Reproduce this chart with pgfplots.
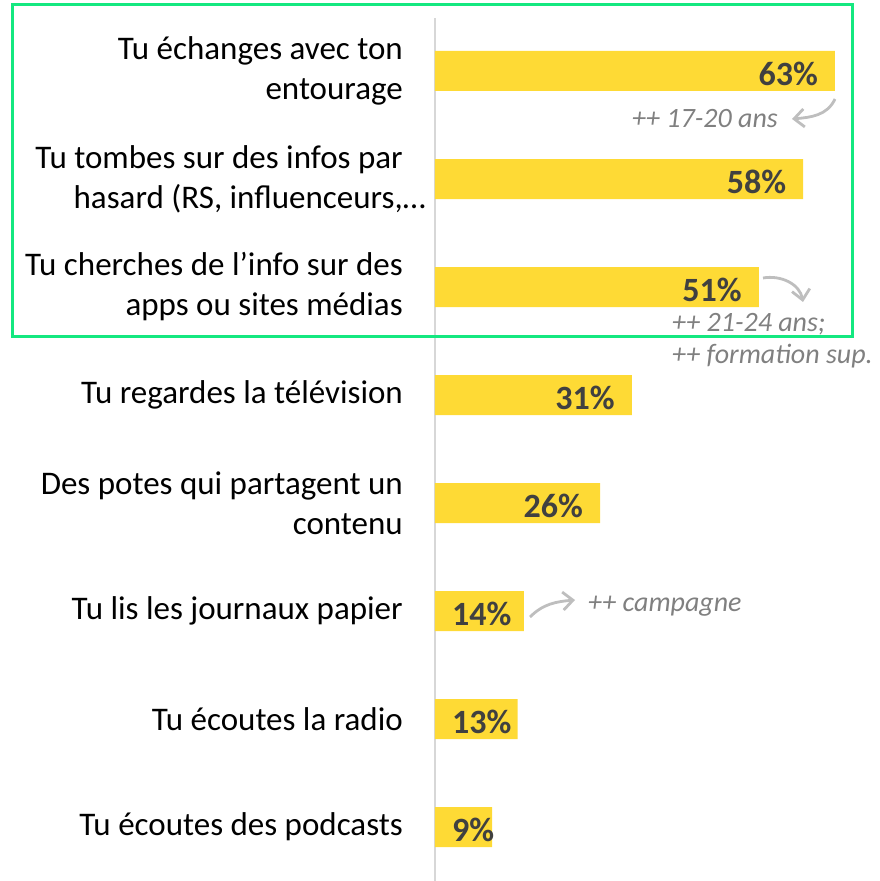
\documentclass[border=0pt]{standalone}
\usepackage{fontspec}
\setmainfont{Carlito}
\usepackage{pgfplots}
\pgfplotsset{compat=1.18}
\usepackage{pgfplotstable}
\usetikzlibrary{arrows.meta}
\definecolor{baryellow}{RGB}{254,218,53}
\definecolor{labgray}{RGB}{64,64,64}
\definecolor{anngray}{RGB}{128,128,128}
\definecolor{arrgray}{RGB}{190,190,190}
\definecolor{framegreen}{RGB}{20,232,128}
\definecolor{axisgray}{RGB}{215,215,215}

\pgfplotstableread{
idx val
0 63
1 58
2 51
3 31
4 26
5 14
6 13
7 9
}\data
\pgfplotstableread{
idx val lx
0 63 60.32
1 58 55.32
2 51 48.32
3 31 28.32
4 26 23.32
}\biglab
\pgfplotstableread{
idx val lx
5 14 2.68
6 13 2.68
7 9 2.68
}\smalllab

\begin{document}
\begin{tikzpicture}
\path[use as bounding box] (0pt,0pt) rectangle (880pt,881pt);
\begin{axis}[
  at={(435pt,0pt)}, anchor=south west,
  scale only axis, width=445pt, height=863pt,
  xmin=0, xmax=70.09,
  ymin=-0.4907, ymax=7.5, y dir=reverse,
  hide x axis,
  axis y line=left,
  y axis line style={-, draw=axisgray, line width=2pt},
  ytick={0,...,7},
  yticklabels={{Tu échanges avec ton\\entourage},
    {Tu tombes sur des infos par\\hasard (RS, influenceurs,\rlap{…}},
    {Tu cherches de l’info sur des\\apps ou sites médias},
    {Tu regardes la télévision},
    {Des potes qui partagent un\\contenu},
    {Tu lis les journaux papier},
    {Tu écoutes la radio},
    {Tu écoutes des podcasts}},
  ytick style={draw=none},
  major tick length=0pt,
  yticklabel style={align=right, inner xsep=0pt, xshift=-32pt,
    font=\fontsize{33}{40}\selectfont, text=black},
  clip=false,
]
\addplot[xbar, bar width=40pt, fill=baryellow, draw=none] table[x=val, y=idx]{\data};
\addplot[draw=none, mark=none,
  nodes near coords={\pgfmathprintnumber[assume math mode=true]{\pgfplotspointmeta}\%},
  point meta=\thisrow{val},
  nodes near coords style={anchor=east, inner sep=0pt, yshift=-3pt, text=labgray,
    font=\fontsize{34}{38}\selectfont\bfseries}]
  table[x=lx, y=idx]{\biglab};
\addplot[draw=none, mark=none,
  nodes near coords={\pgfmathprintnumber[assume math mode=true]{\pgfplotspointmeta}\%},
  point meta=\thisrow{val},
  nodes near coords style={anchor=west, inner sep=0pt, yshift=-3pt, text=labgray,
    font=\fontsize{34}{38}\selectfont\bfseries}]
  table[x=lx, y=idx]{\smalllab};
\end{axis}
% annotations
\begin{scope}[font=\fontsize{28}{33}\selectfont\itshape, text=anngray]
\node[anchor=base east, inner sep=0pt] at (778pt,753pt) {++ 17-20 ans};
\node[anchor=base west, inner sep=0pt] at (672pt,549pt) {++ 21-24 ans;};
\node[anchor=base west, inner sep=0pt] at (672pt,517pt) {++ formation sup.};
\node[anchor=base west, inner sep=0pt] at (588pt,269pt) {++ campagne};
\end{scope}
\begin{scope}[draw=arrgray, line width=2.8pt, -{Straight Barb[length=10pt, width=18pt]}]
\draw (835pt,782pt) to[out=-115, in=5] (792pt,762pt);
\draw (763pt,603pt) to[out=10, in=100] (803pt,579pt);
\draw (530pt,264pt) to[out=45, in=185] (575pt,281pt);
\end{scope}
\draw[framegreen, line width=3pt] (12pt,876pt) rectangle (852pt,544pt);
\end{tikzpicture}
\end{document}
